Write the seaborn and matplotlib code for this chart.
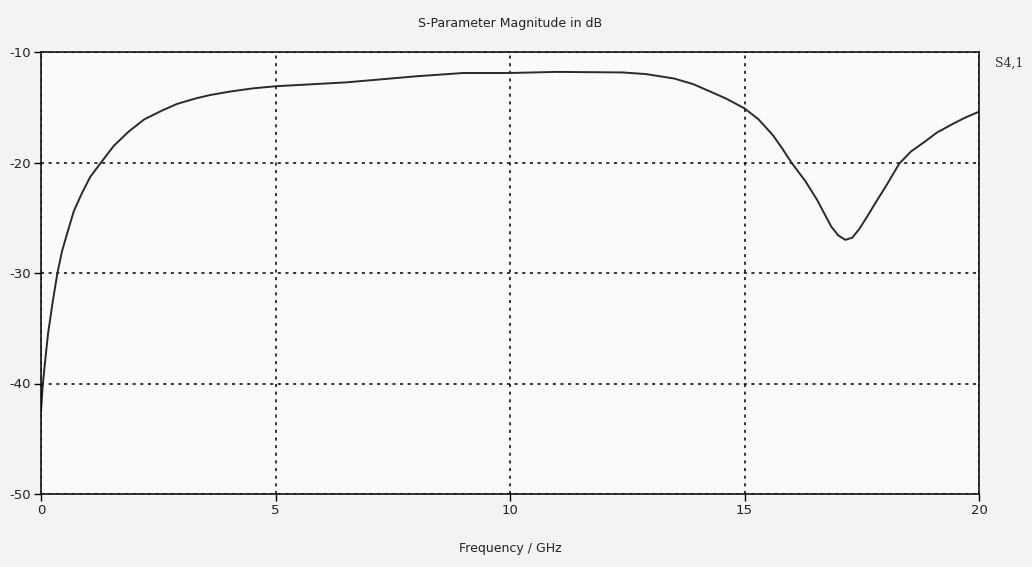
import matplotlib
matplotlib.use("Agg")
import matplotlib.pyplot as plt
import seaborn as sns
import pandas as pd

# Data (S4,1 magnitude in dB vs frequency in GHz)
freq_ghz = [0.0, 0.04, 0.1, 0.15, 0.25, 0.35, 0.45, 0.58, 0.7, 0.87, 1.05, 1.28,
            1.55, 1.87, 2.2, 2.58, 2.9, 3.3, 3.6, 4.0, 4.5, 5.0,
            6.5, 8.0, 9.0, 10.0, 11.0, 12.4, 12.9, 13.5, 13.9, 14.2, 14.6, 15.0,
            15.3, 15.6, 15.8, 16.0, 16.3, 16.55, 16.85, 17.0, 17.15, 17.3, 17.45,
            17.6, 17.8, 18.05, 18.3, 18.55, 18.85, 19.1, 19.4, 19.7, 20.0]
s41_db = [-42.5, -40.0, -37.5, -35.5, -32.6, -30.0, -28.0, -26.1, -24.4, -22.8, -21.3, -20.0,
          -18.5, -17.2, -16.1, -15.3, -14.7, -14.2, -13.9, -13.6, -13.3, -13.1,
          -12.75, -12.2, -11.9, -11.9, -11.8, -11.85, -12.0, -12.4, -12.9, -13.45, -14.2, -15.1,
          -16.1, -17.5, -18.7, -20.0, -21.7, -23.4, -25.8, -26.6, -27.0, -26.8, -26.0,
          -25.0, -23.6, -21.9, -20.1, -19.0, -18.1, -17.3, -16.6, -15.95, -15.4]
x_ticks = [0, 5, 10, 15, 20]
y_ticks = [-50, -40, -30, -20, -10]
title = "S-Parameter Magnitude in dB"
x_label = "Frequency / GHz"
series_label = "S4,1"

sns.set_style("ticks")
plt.rcParams["font.family"] = ["DejaVu Sans"]

df = pd.DataFrame({"freq": freq_ghz, "db": s41_db})

fig = plt.figure(figsize=(10.32, 5.67), dpi=100, facecolor="#f3f3f3")
ax = fig.add_axes([41 / 1032, 1 - 494 / 567, (979 - 41) / 1032, (494 - 52) / 567])
ax.set_facecolor("#fafafa")
ax.set_axisbelow(True)

sns.lineplot(data=df, x="freq", y="db", ax=ax, color="#2a2a2a", linewidth=1.4,
             estimator=None, sort=False)

ax.set_xlim(0, 20)
ax.set_ylim(-50, -10)
ax.set_xticks(x_ticks)
ax.set_yticks(y_ticks)
ax.set_xticklabels([str(t) for t in x_ticks])
ax.set_yticklabels([str(t) for t in y_ticks])

ax.grid(True, color="black", linestyle=(0, (2, 3)), linewidth=1.1)
for s in ax.spines.values():
    s.set_visible(True)
    s.set_color("black")
    s.set_linewidth(1.1)
    s.set_zorder(3)

ax.tick_params(axis="both", direction="out", length=5, width=1.0, color="black",
               labelsize=9.5, labelcolor="#222222", pad=2)

ax.set_xlabel(x_label, fontsize=9, color="#222222", labelpad=18)
ax.set_ylabel("")
ax.set_title(title, fontsize=9, color="#222222", pad=18)

ax.text(1.017, 0.975, series_label, transform=ax.transAxes, fontsize=9,
        color="#333333", family="DejaVu Serif", ha="left", va="center")

fig.savefig("out.png", dpi=100, facecolor=fig.get_facecolor())
